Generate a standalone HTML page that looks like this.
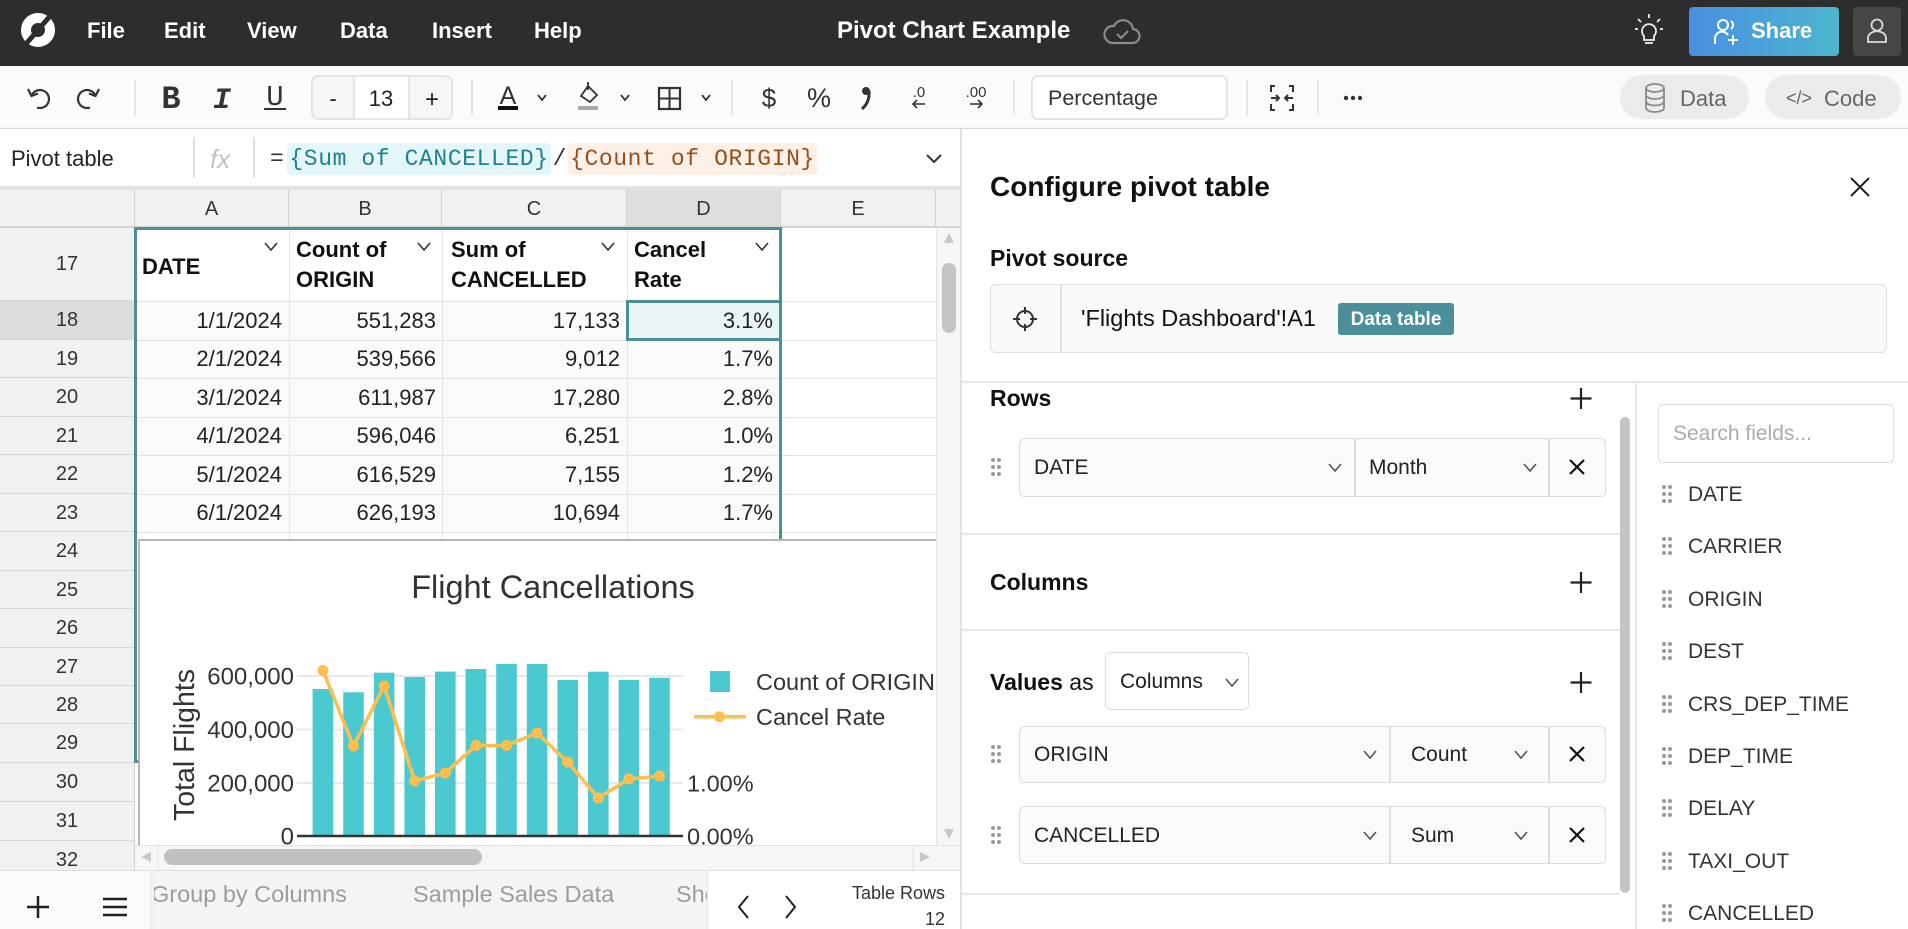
<!DOCTYPE html>
<html><head><meta charset="utf-8">
<style>
*{box-sizing:border-box;margin:0;padding:0}
body{width:1908px;height:929px;overflow:hidden;position:relative;background:#fff;font-family:"Liberation Sans",Arial,sans-serif;color:#222}
.a{position:absolute}
.t{position:absolute;line-height:1;white-space:nowrap}
.rh{position:absolute;left:0;width:135px;background:#f1f1f1;border-bottom:1px solid #d6d6d6;border-right:1px solid #d0d0d0;display:flex;align-items:center;justify-content:center;font-size:20px;color:#333;line-height:1}
.ch{position:absolute;top:190px;height:37px;border-right:1px solid #d0d0d0;display:flex;align-items:center;justify-content:center;font-size:20px;color:#333;line-height:1;background:#f1f1f1}
.hl{position:absolute;left:135px;width:801px;height:1px;background:#e3e3e3}
.vl{position:absolute;top:228px;width:1px;height:617px;background:#e3e3e3}
.num{position:absolute;font-size:22px;line-height:1;text-align:right;white-space:nowrap;color:#222}
.hd{position:absolute;font-size:22px;font-weight:bold;line-height:1;white-space:nowrap;color:#111}
.box{position:absolute;background:#fafafa;border:1.5px solid #dcdcdc;border-radius:5px}
.pl{font-size:21px}
</style></head><body>

<!-- TOP BAR -->
<div class="a" style="left:0;top:0;width:1908px;height:66px;background:#2d2d2d"></div>
<svg class="a" style="left:21px;top:13px" width="34" height="34" viewBox="0 0 34 34"><circle cx="17" cy="17" r="12" fill="none" stroke="#fff" stroke-width="10"/><line x1="4" y1="32" x2="30" y2="2" stroke="#2d2d2d" stroke-width="5"/></svg>
<div class="t" style="left:87px;top:20px;font-size:22px;font-weight:bold;color:#fff">File</div>
<div class="t" style="left:164px;top:20px;font-size:22px;font-weight:bold;color:#fff">Edit</div>
<div class="t" style="left:247px;top:20px;font-size:22px;font-weight:bold;color:#fff">View</div>
<div class="t" style="left:340px;top:20px;font-size:22px;font-weight:bold;color:#fff">Data</div>
<div class="t" style="left:432px;top:20px;font-size:22px;font-weight:bold;color:#fff">Insert</div>
<div class="t" style="left:534px;top:20px;font-size:22px;font-weight:bold;color:#fff">Help</div>
<div class="t" style="left:837px;top:19px;font-size:24px;font-weight:bold;color:#fff">Pivot Chart Example</div>
<svg class="a" style="left:1103px;top:18px" width="38" height="28" viewBox="0 0 38 28"><path d="M9 25 H29 A7 7 0 0 0 30 11 A10 10 0 0 0 11 8 A8.5 8.5 0 0 0 9 25 Z" fill="none" stroke="#8a8a8a" stroke-width="2.2"/><polyline points="14,16 18,20 25,13" fill="none" stroke="#8a8a8a" stroke-width="2.2"/></svg>
<svg class="a" style="left:1635px;top:14px" width="28" height="34" viewBox="0 0 28 34"><path d="M9 22 A7 7 0 1 1 19 22 V26 H9 Z" fill="none" stroke="#eee" stroke-width="1.8"/><line x1="10" y1="29" x2="18" y2="29" stroke="#eee" stroke-width="1.8"/><line x1="14" y1="0" x2="14" y2="4" stroke="#eee" stroke-width="1.8"/><line x1="3" y1="5" x2="6" y2="8" stroke="#eee" stroke-width="1.8"/><line x1="25" y1="5" x2="22" y2="8" stroke="#eee" stroke-width="1.8"/><line x1="0" y1="15" x2="3" y2="15" stroke="#eee" stroke-width="1.8"/><line x1="25" y1="15" x2="28" y2="15" stroke="#eee" stroke-width="1.8"/></svg>
<div class="a" style="left:1689px;top:7px;width:150px;height:49px;border-radius:4px;background:linear-gradient(90deg,#4a8fe1,#4cb6cf)"></div>
<svg class="a" style="left:1713px;top:18px" width="28" height="28" viewBox="0 0 28 28"><circle cx="10" cy="7" r="5" fill="none" stroke="#fff" stroke-width="2"/><path d="M2 26 V21 A7 7 0 0 1 15 17" fill="none" stroke="#fff" stroke-width="2"/><line x1="20" y1="17" x2="20" y2="27" stroke="#fff" stroke-width="2"/><line x1="15" y1="22" x2="25" y2="22" stroke="#fff" stroke-width="2"/><path d="M18 3 A5 5 0 0 1 18 11" fill="none" stroke="#fff" stroke-width="2"/></svg>
<div class="t" style="left:1751px;top:20px;font-size:22px;font-weight:bold;color:#fff">Share</div>
<div class="a" style="left:1853px;top:7px;width:48px;height:49px;border-radius:4px;background:#464646"></div>
<svg class="a" style="left:1866px;top:18px" width="22" height="26" viewBox="0 0 22 26"><circle cx="11" cy="7" r="5.5" fill="none" stroke="#ddd" stroke-width="1.8"/><path d="M2 24 V20 A8 6 0 0 1 20 20 V24 Z" fill="none" stroke="#ddd" stroke-width="1.8"/></svg>

<!-- TOOLBAR -->
<svg class="a" style="left:0;top:66px" width="1908" height="63" viewBox="0 66 1908 63" font-family="Liberation Sans, Arial, sans-serif">
<rect x="0" y="66" width="1908" height="63" fill="#fbfbfb"/>
<line x1="0" y1="128.5" x2="1908" y2="128.5" stroke="#dcdcdc" stroke-width="1.5"/>
<g fill="none" stroke="#333" stroke-width="2.2">
<path d="M31.5 96 A9 9 0 1 1 37 107.5"/><path d="M28 89 L31.5 96 L38 93.5"/>
<path d="M95.5 96 A9 9 0 1 0 90 107.5"/><path d="M99 89 L95.5 96 L89 93.5"/>
</g>
<g stroke="#dddddd" stroke-width="1.5"><line x1="135" y1="80" x2="135" y2="115"/><line x1="472" y1="80" x2="472" y2="115"/><line x1="732" y1="80" x2="732" y2="115"/><line x1="1014" y1="80" x2="1014" y2="115"/><line x1="1247" y1="80" x2="1247" y2="115"/><line x1="1318" y1="80" x2="1318" y2="115"/></g>
<text x="171" y="108" font-family="Liberation Mono, monospace" font-weight="bold" font-size="32" fill="#333" text-anchor="middle">B</text>
<text x="222" y="108" font-family="Liberation Mono, monospace" font-style="italic" font-weight="bold" font-size="30" fill="#333" text-anchor="middle">I</text>
<text x="275" y="105" font-family="Liberation Mono, monospace" font-size="29" fill="#333" text-anchor="middle">U</text>
<line x1="264" y1="109" x2="286" y2="109" stroke="#333" stroke-width="2"/>
<rect x="312" y="76" width="140" height="43" rx="6" fill="#f6f6f6" stroke="#dddddd" stroke-width="1.5"/>
<rect x="354" y="76.8" width="55" height="41.5" fill="#fff"/>
<line x1="354" y1="77" x2="354" y2="118" stroke="#dddddd" stroke-width="1.5"/><line x1="409" y1="77" x2="409" y2="118" stroke="#dddddd" stroke-width="1.5"/>
<text x="333" y="106" font-size="22" fill="#222" text-anchor="middle">-</text>
<text x="381" y="106" font-size="22" fill="#222" text-anchor="middle">13</text>
<text x="432" y="107" font-size="24" fill="#222" text-anchor="middle">+</text>
<text x="508" y="104" font-size="25" fill="#333" text-anchor="middle">A</text>
<rect x="498" y="106" width="20" height="4" fill="#111"/>
<g fill="none" stroke="#333" stroke-width="1.8"><polyline points="538,95 542,100 546,95"/><polyline points="621,95 625,100 629,95"/><polyline points="702,95 706,100 710,95"/><polyline points="1189,94 1196,101 1203,94" stroke-width="2.2"/></g>
<path d="M588 86 L597 95 L590 102 L581 96 Z" fill="none" stroke="#333" stroke-width="1.8"/><line x1="588" y1="82" x2="588" y2="90" stroke="#333" stroke-width="1.8"/>
<rect x="578" y="106" width="20" height="4" fill="#a8a8a8"/>
<rect x="659" y="88" width="21" height="21" fill="none" stroke="#333" stroke-width="2.2"/><line x1="669.5" y1="88" x2="669.5" y2="109" stroke="#333" stroke-width="2"/><line x1="659" y1="98.5" x2="680" y2="98.5" stroke="#333" stroke-width="2"/>
<text x="769" y="107" font-size="26" fill="#333" text-anchor="middle">$</text>
<text x="819" y="107" font-size="27" fill="#333" text-anchor="middle">%</text>
<circle cx="866" cy="91" r="4" fill="#333"/><path d="M869 91 Q870 102 862 109" fill="none" stroke="#333" stroke-width="3"/>
<text x="919" y="97" font-size="15" fill="#333" text-anchor="middle">.0</text>
<path d="M925 104 H913 M917 100 L913 104 L917 108" fill="none" stroke="#333" stroke-width="1.6"/>
<text x="976" y="97" font-size="15" fill="#333" text-anchor="middle">.00</text>
<path d="M970 104 H982 M978 100 L982 104 L978 108" fill="none" stroke="#333" stroke-width="1.6"/>
<rect x="1032" y="76" width="195" height="43" rx="6" fill="#fff" stroke="#dddddd" stroke-width="1.5"/>
<text x="1048" y="105" font-size="21.5" fill="#333">Percentage</text>
<g fill="none" stroke="#333" stroke-width="2"><path d="M1275 86 H1271 V92 M1271 104 V110 H1275 M1289 86 H1293 V92 M1293 104 V110 H1289"/><path d="M1271 98 H1279 M1276 95 L1279 98 L1276 101 M1293 98 H1285 M1288 95 L1285 98 L1288 101"/></g>
<circle cx="1346" cy="98" r="2.2" fill="#333"/><circle cx="1353" cy="98" r="2.2" fill="#333"/><circle cx="1360" cy="98" r="2.2" fill="#333"/>
<rect x="1620" y="75" width="129" height="44" rx="22" fill="#ebebeb"/>
<g fill="none" stroke="#8a8a8a" stroke-width="1.8"><ellipse cx="1655" cy="88" rx="9" ry="4"/><path d="M1646 88 V108 A9 4 0 0 0 1664 108 V88 M1646 95 A9 4 0 0 0 1664 95 M1646 101.5 A9 4 0 0 0 1664 101.5"/></g>
<text x="1680" y="106" font-size="22" fill="#666">Data</text>
<rect x="1765" y="75" width="136" height="44" rx="22" fill="#ebebeb"/>
<text x="1799" y="104" font-size="18" fill="#666" text-anchor="middle">&lt;/&gt;</text>
<text x="1824" y="106" font-size="22" fill="#666">Code</text>
</svg>

<!-- FORMULA BAR -->
<div class="t" style="left:11px;top:148px;font-size:22px;color:#222">Pivot table</div>
<div class="a" style="left:193px;top:137px;width:1.5px;height:41px;background:#dddddd"></div>
<div class="a" style="left:253px;top:137px;width:1.5px;height:41px;background:#dddddd"></div>
<div class="t" style="left:210px;top:146px;font-size:26px;font-style:italic;color:#c2c2c2">fx</div>
<div class="a" style="left:270px;top:143px;height:32px;display:flex;align-items:center;font-family:'Liberation Mono',monospace;font-size:23px;letter-spacing:0.6px;white-space:nowrap;line-height:32px">
<span style="color:#333">=</span><span style="margin-left:3px;padding:0 2px;background:#e3f6f9;color:#1f7f8c;border-radius:4px">{Sum of CANCELLED}</span><span style="margin-left:2px;color:#333">/</span><span style="margin-left:1px;padding:0 2px;background:#fdf0e6;color:#93501c;border-radius:4px">{Count of ORIGIN}</span></div>
<svg class="a" style="left:926px;top:154px" width="16" height="10" viewBox="0 0 16 10"><polyline points="1,1 8,8 15,1" fill="none" stroke="#333" stroke-width="2"/></svg>

<!-- GRID HEADERS -->
<div class="a" style="left:0;top:186px;width:960px;height:4px;background:#e2e2e2"></div>
<div class="ch" style="left:0;width:135px"></div>
<div class="ch" style="left:135px;width:154px">A</div>
<div class="ch" style="left:289px;width:153px">B</div>
<div class="ch" style="left:442px;width:185px">C</div>
<div class="ch" style="left:627px;width:154px;background:#dedede">D</div>
<div class="ch" style="left:781px;width:155px">E</div>
<div class="ch" style="left:936px;width:24px;border-right:none"></div>
<div class="a" style="left:0;top:226px;width:960px;height:2px;background:#d4d4d4"></div>

<!-- ROW HEADERS -->
<div class="rh" style="top:228px;height:73px">17</div>
<div class="rh" style="top:301px;height:39px;background:#dcdcdc">18</div>
<div class="rh" style="top:340px;height:38px">19</div>
<div class="rh" style="top:378px;height:39px">20</div>
<div class="rh" style="top:417px;height:38px">21</div>
<div class="rh" style="top:455px;height:39px">22</div>
<div class="rh" style="top:494px;height:38px">23</div>
<div class="rh" style="top:532px;height:39px">24</div>
<div class="rh" style="top:571px;height:38px">25</div>
<div class="rh" style="top:609px;height:39px">26</div>
<div class="rh" style="top:648px;height:38px">27</div>
<div class="rh" style="top:686px;height:38px">28</div>
<div class="rh" style="top:724px;height:39px">29</div>
<div class="rh" style="top:763px;height:39px">30</div>
<div class="rh" style="top:802px;height:39px">31</div>
<div class="rh" style="top:841px;height:39px">32</div>

<!-- CELL GRID -->
<div class="a" style="left:135px;top:301px;width:646px;height:231px;background:#fafafa"></div>
<div class="hl" style="top:301px"></div><div class="hl" style="top:340px"></div><div class="hl" style="top:378px"></div><div class="hl" style="top:417px"></div><div class="hl" style="top:455px"></div><div class="hl" style="top:494px"></div><div class="hl" style="top:532px"></div>
<div class="vl" style="left:289px"></div><div class="vl" style="left:442px"></div><div class="vl" style="left:627px"></div><div class="vl" style="left:781px"></div>

<!-- PIVOT HEADER -->
<div class="hd" style="left:142px;top:256px">DATE</div>
<div class="hd" style="left:296px;top:239px">Count of</div>
<div class="hd" style="left:296px;top:269px">ORIGIN</div>
<div class="hd" style="left:451px;top:239px">Sum of</div>
<div class="hd" style="left:451px;top:269px">CANCELLED</div>
<div class="hd" style="left:634px;top:239px">Cancel</div>
<div class="hd" style="left:634px;top:269px">Rate</div>
<svg class="a" style="left:0;top:0" width="960" height="300" viewBox="0 0 960 300"><g fill="none" stroke="#333" stroke-width="1.6"><polyline points="265,243 271,250 277,243"/><polyline points="418,243 424,250 430,243"/><polyline points="602,243 608,250 614,243"/><polyline points="756,243 762,250 768,243"/></g></svg>

<!-- DATA -->
<div class="num" style="right:1626px;top:310px">1/1/2024</div><div class="num" style="right:1472px;top:310px">551,283</div><div class="num" style="right:1288px;top:310px">17,133</div>
<div class="num" style="right:1626px;top:348px">2/1/2024</div><div class="num" style="right:1472px;top:348px">539,566</div><div class="num" style="right:1288px;top:348px">9,012</div><div class="num" style="right:1135px;top:348px">1.7%</div>
<div class="num" style="right:1626px;top:387px">3/1/2024</div><div class="num" style="right:1472px;top:387px">611,987</div><div class="num" style="right:1288px;top:387px">17,280</div><div class="num" style="right:1135px;top:387px">2.8%</div>
<div class="num" style="right:1626px;top:425px">4/1/2024</div><div class="num" style="right:1472px;top:425px">596,046</div><div class="num" style="right:1288px;top:425px">6,251</div><div class="num" style="right:1135px;top:425px">1.0%</div>
<div class="num" style="right:1626px;top:464px">5/1/2024</div><div class="num" style="right:1472px;top:464px">616,529</div><div class="num" style="right:1288px;top:464px">7,155</div><div class="num" style="right:1135px;top:464px">1.2%</div>
<div class="num" style="right:1626px;top:502px">6/1/2024</div><div class="num" style="right:1472px;top:502px">626,193</div><div class="num" style="right:1288px;top:502px">10,694</div><div class="num" style="right:1135px;top:502px">1.7%</div>

<!-- PIVOT OUTLINE + SELECTION -->
<div class="a" style="left:134px;top:227px;width:648px;height:536px;border:3px solid #4d8f99"></div>
<div class="a" style="left:626px;top:300px;width:156px;height:41px;border:3px solid #4d8f99;background:#e8f4f6"></div>
<div class="num" style="right:1135px;top:310px">3.1%</div>

<!-- CHART -->
<div class="a" style="left:138px;top:539px;width:798px;height:306px;background:#fff"></div>
<svg class="a" style="left:138px;top:539px" width="798" height="306" viewBox="138 539 798 306" font-family="Liberation Sans, Arial, sans-serif">
<line x1="138" y1="540" x2="936" y2="540" stroke="#b5b5b5" stroke-width="2"/>
<line x1="139" y1="539" x2="139" y2="845" stroke="#b5b5b5" stroke-width="2"/>
<text x="553" y="598" font-size="32.5" fill="#333" text-anchor="middle">Flight Cancellations</text>
<g stroke="#e8e8e8" stroke-width="2"><line x1="297" y1="676" x2="683" y2="676"/><line x1="297" y1="729.5" x2="683" y2="729.5"/><line x1="297" y1="783" x2="683" y2="783"/></g>
<g fill="#4bc9d0">
<rect x="312.6" y="689" width="20.6" height="147"/>
<rect x="343.2" y="692.3" width="20.6" height="143.7"/>
<rect x="373.8" y="672.7" width="20.6" height="163.3"/>
<rect x="404.4" y="677" width="20.6" height="159"/>
<rect x="435" y="671.6" width="20.6" height="164.4"/>
<rect x="465.6" y="669" width="20.6" height="167"/>
<rect x="496.2" y="664" width="20.6" height="172"/>
<rect x="526.8" y="664" width="20.6" height="172"/>
<rect x="557.4" y="680" width="20.6" height="156"/>
<rect x="588" y="671.7" width="20.6" height="164.3"/>
<rect x="618.6" y="680" width="20.6" height="156"/>
<rect x="649.2" y="677.7" width="20.6" height="158.3"/>
</g>
<line x1="297" y1="836" x2="683" y2="836" stroke="#333" stroke-width="2.5"/>
<polyline points="322.9,670.5 353.5,746 384.1,686 414.7,781 445.3,773 475.9,745.5 506.5,745.5 537.1,733 567.7,762 598.3,798 628.9,779 659.5,776" fill="none" stroke="#ffbd4d" stroke-width="3.5" stroke-linejoin="round"/>
<g fill="#ffbd4d">
<circle cx="322.9" cy="670.5" r="5.5"/><circle cx="353.5" cy="746" r="5.5"/><circle cx="384.1" cy="686" r="5.5"/><circle cx="414.7" cy="781" r="5.5"/><circle cx="445.3" cy="773" r="5.5"/><circle cx="475.9" cy="745.5" r="5.5"/><circle cx="506.5" cy="745.5" r="5.5"/><circle cx="537.1" cy="733" r="5.5"/><circle cx="567.7" cy="762" r="5.5"/><circle cx="598.3" cy="798" r="5.5"/><circle cx="628.9" cy="779" r="5.5"/><circle cx="659.5" cy="776" r="5.5"/>
</g>
<g font-size="24" fill="#333" text-anchor="end">
<text x="294" y="684.5">600,000</text><text x="294" y="738">400,000</text><text x="294" y="791.5">200,000</text><text x="294" y="844.5">0</text>
</g>
<g font-size="23.5" fill="#333">
<text x="687" y="791.5">1.00%</text><text x="687" y="844.5">0.00%</text>
</g>
<text x="194" y="745" font-size="28.5" fill="#333" text-anchor="middle" transform="rotate(-90 194 745)">Total Flights</text>
<rect x="710" y="671" width="20" height="21" fill="#4bc9d0"/>
<text x="756" y="690" font-size="23.5" fill="#333">Count of ORIGIN</text>
<line x1="694" y1="716.7" x2="746" y2="716.7" stroke="#ffbd4d" stroke-width="3.5"/>
<circle cx="719.5" cy="716.7" r="5.5" fill="#ffbd4d"/>
<text x="756" y="725" font-size="23.5" fill="#333">Cancel Rate</text>
</svg>

<!-- SCROLLBARS -->
<div class="a" style="left:936px;top:228px;width:24px;height:642px;background:#f6f6f6;border-left:1px solid #e2e2e2"></div>
<svg class="a" style="left:936px;top:228px" width="24" height="617" viewBox="936 228 24 617"><polygon points="949,233 944,243 954,243" fill="#c8c8c8"/><rect x="942" y="263" width="14" height="70" rx="7" fill="#c4c4c4"/><polygon points="949,839 944,829 954,829" fill="#c8c8c8"/></svg>
<div class="a" style="left:135px;top:845px;width:825px;height:25px;background:#f6f6f6;border-top:1px solid #e2e2e2"></div>
<svg class="a" style="left:135px;top:845px" width="801" height="25" viewBox="135 845 801 25"><polygon points="141,857 151,852 151,862" fill="#c8c8c8"/><line x1="158" y1="846" x2="158" y2="870" stroke="#e2e2e2"/><rect x="164" y="849" width="318" height="16" rx="8" fill="#c1c1c1"/><line x1="913" y1="846" x2="913" y2="870" stroke="#e2e2e2"/><polygon points="930,857 920,852 920,862" fill="#c8c8c8"/></svg>

<!-- BOTTOM BAR -->
<div class="a" style="left:0;top:870px;width:960px;height:59px;background:#fafafa;border-top:1px solid #dedede"></div>
<div class="a" style="left:154px;top:871px;width:553px;height:58px;background:#f4f4f4;overflow:hidden">
<div class="t" style="left:-3px;top:12px;font-size:23.5px;color:#9c9c9c">Group by Columns</div>
<div class="t" style="left:259px;top:12px;font-size:23.5px;color:#9c9c9c">Sample Sales Data</div>
<div class="t" style="left:522px;top:12px;font-size:23.5px;color:#9c9c9c">Sheet1</div>
</div>
<div class="a" style="left:150px;top:871px;width:6px;height:58px;background:linear-gradient(90deg,rgba(0,0,0,0.06),rgba(0,0,0,0))"></div>
<div class="a" style="left:707px;top:871px;width:253px;height:58px;background:#fff;border-left:1px solid #e6e6e6"></div>
<svg class="a" style="left:0;top:871px" width="960" height="58" viewBox="0 871 960 58"><g stroke="#222" stroke-width="2.5" fill="none"><line x1="27" y1="907" x2="49" y2="907"/><line x1="38" y1="896" x2="38" y2="918"/><line x1="103" y1="899" x2="127" y2="899"/><line x1="103" y1="907" x2="127" y2="907"/><line x1="103" y1="915" x2="127" y2="915"/><polyline points="748,896 739,907 748,918" stroke-width="2"/><polyline points="786,896 795,907 786,918" stroke-width="2"/></g></svg>
<div class="t" style="right:963px;top:884px;font-size:18px;color:#333">Table Rows</div>
<div class="t" style="right:963px;top:910px;font-size:18px;color:#333">12</div>

<!-- RIGHT PANEL -->
<div class="a" style="left:960px;top:129px;width:948px;height:800px;background:#fff;border-left:2px solid #e3e3e3"></div>
<div class="t" style="left:990px;top:173px;font-size:28px;font-weight:bold;color:#111">Configure pivot table</div>
<svg class="a" style="left:1849px;top:176px" width="22" height="22" viewBox="0 0 22 22"><path d="M2 2 L20 20 M20 2 L2 20" stroke="#222" stroke-width="2"/></svg>
<div class="t" style="left:990px;top:247px;font-size:23px;font-weight:bold;color:#111">Pivot source</div>
<div class="a" style="left:990px;top:284px;width:897px;height:69px;background:#f9f9f9;border:1.5px solid #e0e0e0;border-radius:6px"></div>
<div class="a" style="left:1060px;top:285px;width:1.5px;height:67px;background:#e0e0e0"></div>
<svg class="a" style="left:1012px;top:306px" width="26" height="26" viewBox="0 0 26 26"><circle cx="13" cy="13" r="8" fill="none" stroke="#333" stroke-width="2"/><path d="M13 1 V8 M13 18 V25 M1 13 H8 M18 13 H25" stroke="#333" stroke-width="2"/></svg>
<div class="t" style="left:1081px;top:307px;font-size:23.5px;color:#111">'Flights Dashboard'!A1</div>
<div class="a" style="left:1338px;top:303px;width:116px;height:32px;background:#4a8f99;border-radius:3px;display:flex;align-items:center;justify-content:center;color:#fff;font-weight:bold;font-size:19px;line-height:1">Data table</div>
<div class="a" style="left:962px;top:381px;width:946px;height:1.5px;background:#e6e6e6"></div>
<div class="a" style="left:1635px;top:382px;width:1.5px;height:547px;background:#e6e6e6"></div>

<div class="t" style="left:990px;top:387px;font-size:23px;font-weight:bold;color:#111">Rows</div>
<div class="t" style="left:990px;top:571px;font-size:23px;font-weight:bold;color:#111">Columns</div>
<div class="t" style="left:990px;top:671px;font-size:23px;color:#111"><b>Values</b> as</div>
<svg class="a" style="left:1570px;top:387px" width="22" height="310" viewBox="1570 387 22 310"><g stroke="#222" stroke-width="2.2"><path d="M1581 388 V409 M1570.5 398.5 H1591.5"/><path d="M1581 572 V593 M1570.5 582.5 H1591.5"/><path d="M1581 672 V693 M1570.5 682.5 H1591.5"/></g></svg>
<div class="a" style="left:1620px;top:417px;width:10px;height:476px;background:#c4c4c4;border-radius:5px"></div>
<div class="a" style="left:962px;top:533px;width:658px;height:1.5px;background:#e6e6e6"></div>
<div class="a" style="left:962px;top:629px;width:658px;height:1.5px;background:#e6e6e6"></div>
<div class="a" style="left:962px;top:893px;width:658px;height:1.5px;background:#e6e6e6"></div>

<!-- rows box -->
<div class="box" style="left:1019px;top:438px;width:587px;height:59px"></div>
<div class="a" style="left:1354px;top:439px;width:1.5px;height:57px;background:#dcdcdc"></div>
<div class="a" style="left:1548px;top:439px;width:1.5px;height:57px;background:#dcdcdc"></div>
<div class="t pl" style="left:1034px;top:457px">DATE</div>
<div class="t pl" style="left:1369px;top:457px">Month</div>

<!-- values as dropdown -->
<div class="a" style="left:1105px;top:652px;width:144px;height:58px;border:1.5px solid #dcdcdc;border-radius:5px;background:#fff"></div>
<div class="t pl" style="left:1120px;top:671px">Columns</div>

<!-- value rows -->
<div class="box" style="left:1019px;top:726px;width:587px;height:57px"></div>
<div class="a" style="left:1389px;top:727px;width:1.5px;height:55px;background:#dcdcdc"></div>
<div class="a" style="left:1548px;top:727px;width:1.5px;height:55px;background:#dcdcdc"></div>
<div class="t pl" style="left:1034px;top:744px">ORIGIN</div>
<div class="t pl" style="left:1411px;top:744px">Count</div>
<div class="box" style="left:1019px;top:806px;width:587px;height:58px"></div>
<div class="a" style="left:1389px;top:807px;width:1.5px;height:56px;background:#dcdcdc"></div>
<div class="a" style="left:1548px;top:807px;width:1.5px;height:56px;background:#dcdcdc"></div>
<div class="t pl" style="left:1034px;top:825px">CANCELLED</div>
<div class="t pl" style="left:1411px;top:825px">Sum</div>

<svg class="a" style="left:960px;top:380px" width="948" height="549" viewBox="960 380 948 549">
<g fill="none" stroke="#555" stroke-width="1.6">
<polyline points="1329,464 1335,471 1341,464"/><polyline points="1524,464 1530,471 1536,464"/>
<polyline points="1226,679 1232,686 1238,679"/>
<polyline points="1364,751 1370,758 1376,751"/><polyline points="1515,751 1521,758 1527,751"/>
<polyline points="1364,832 1370,839 1376,832"/><polyline points="1515,832 1521,839 1527,832"/>
</g>
<g stroke="#111" stroke-width="2.2"><path d="M1570 460 L1584 474 M1584 460 L1570 474"/><path d="M1570 747 L1584 761 M1584 747 L1570 761"/><path d="M1570 828 L1584 842 M1584 828 L1570 842"/></g>
<g fill="#999">
<g transform="translate(993,460)"><circle cx="0" cy="0" r="2"/><circle cx="6" cy="0" r="2"/><circle cx="0" cy="7" r="2"/><circle cx="6" cy="7" r="2"/><circle cx="0" cy="14" r="2"/><circle cx="6" cy="14" r="2"/></g>
<g transform="translate(993,747)"><circle cx="0" cy="0" r="2"/><circle cx="6" cy="0" r="2"/><circle cx="0" cy="7" r="2"/><circle cx="6" cy="7" r="2"/><circle cx="0" cy="14" r="2"/><circle cx="6" cy="14" r="2"/></g>
<g transform="translate(993,828)"><circle cx="0" cy="0" r="2"/><circle cx="6" cy="0" r="2"/><circle cx="0" cy="7" r="2"/><circle cx="6" cy="7" r="2"/><circle cx="0" cy="14" r="2"/><circle cx="6" cy="14" r="2"/></g>
<g transform="translate(1664,487)"><circle cx="0" cy="0" r="2"/><circle cx="6" cy="0" r="2"/><circle cx="0" cy="7" r="2"/><circle cx="6" cy="7" r="2"/><circle cx="0" cy="14" r="2"/><circle cx="6" cy="14" r="2"/></g>
<g transform="translate(1664,539)"><circle cx="0" cy="0" r="2"/><circle cx="6" cy="0" r="2"/><circle cx="0" cy="7" r="2"/><circle cx="6" cy="7" r="2"/><circle cx="0" cy="14" r="2"/><circle cx="6" cy="14" r="2"/></g>
<g transform="translate(1664,592)"><circle cx="0" cy="0" r="2"/><circle cx="6" cy="0" r="2"/><circle cx="0" cy="7" r="2"/><circle cx="6" cy="7" r="2"/><circle cx="0" cy="14" r="2"/><circle cx="6" cy="14" r="2"/></g>
<g transform="translate(1664,644)"><circle cx="0" cy="0" r="2"/><circle cx="6" cy="0" r="2"/><circle cx="0" cy="7" r="2"/><circle cx="6" cy="7" r="2"/><circle cx="0" cy="14" r="2"/><circle cx="6" cy="14" r="2"/></g>
<g transform="translate(1664,697)"><circle cx="0" cy="0" r="2"/><circle cx="6" cy="0" r="2"/><circle cx="0" cy="7" r="2"/><circle cx="6" cy="7" r="2"/><circle cx="0" cy="14" r="2"/><circle cx="6" cy="14" r="2"/></g>
<g transform="translate(1664,749)"><circle cx="0" cy="0" r="2"/><circle cx="6" cy="0" r="2"/><circle cx="0" cy="7" r="2"/><circle cx="6" cy="7" r="2"/><circle cx="0" cy="14" r="2"/><circle cx="6" cy="14" r="2"/></g>
<g transform="translate(1664,801)"><circle cx="0" cy="0" r="2"/><circle cx="6" cy="0" r="2"/><circle cx="0" cy="7" r="2"/><circle cx="6" cy="7" r="2"/><circle cx="0" cy="14" r="2"/><circle cx="6" cy="14" r="2"/></g>
<g transform="translate(1664,854)"><circle cx="0" cy="0" r="2"/><circle cx="6" cy="0" r="2"/><circle cx="0" cy="7" r="2"/><circle cx="6" cy="7" r="2"/><circle cx="0" cy="14" r="2"/><circle cx="6" cy="14" r="2"/></g>
<g transform="translate(1664,906)"><circle cx="0" cy="0" r="2"/><circle cx="6" cy="0" r="2"/><circle cx="0" cy="7" r="2"/><circle cx="6" cy="7" r="2"/><circle cx="0" cy="14" r="2"/><circle cx="6" cy="14" r="2"/></g>
</g>
</svg>

<!-- search + fields -->
<div class="a" style="left:1658px;top:404px;width:236px;height:59px;border:1.5px solid #dcdcdc;border-radius:5px;background:#fff"></div>
<div class="t pl" style="left:1673px;top:423px;color:#ababab">Search fields...</div>
<div class="t pl" style="left:1688px;top:484px;color:#333">DATE</div>
<div class="t pl" style="left:1688px;top:536px;color:#333">CARRIER</div>
<div class="t pl" style="left:1688px;top:589px;color:#333">ORIGIN</div>
<div class="t pl" style="left:1688px;top:641px;color:#333">DEST</div>
<div class="t pl" style="left:1688px;top:694px;color:#333">CRS_DEP_TIME</div>
<div class="t pl" style="left:1688px;top:746px;color:#333">DEP_TIME</div>
<div class="t pl" style="left:1688px;top:798px;color:#333">DELAY</div>
<div class="t pl" style="left:1688px;top:851px;color:#333">TAXI_OUT</div>
<div class="t pl" style="left:1688px;top:903px;color:#333">CANCELLED</div>

</body></html>
